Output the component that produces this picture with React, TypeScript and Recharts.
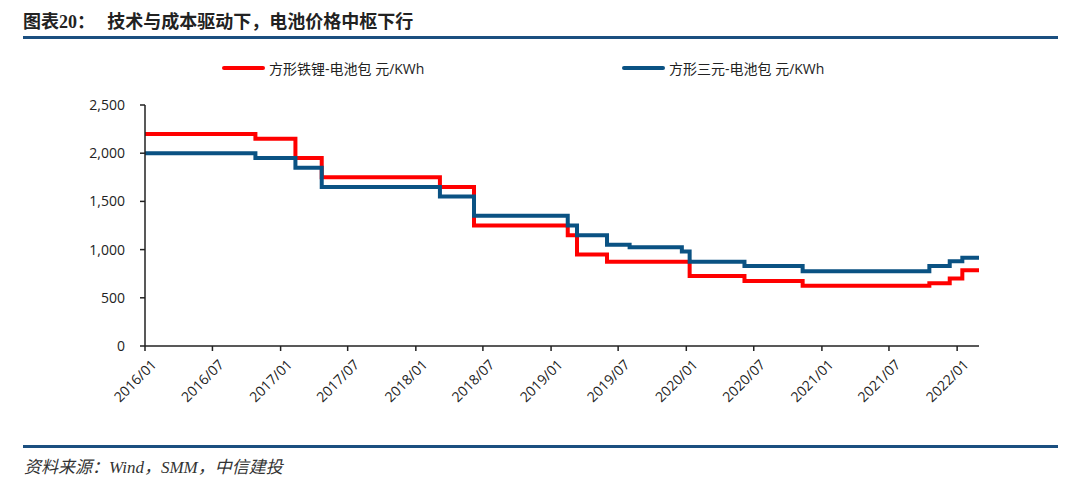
import { LineChart, Line, XAxis, YAxis } from 'recharts';

// change points of the two step series (yuan / KWh)
const dates = [
  '2016-01-01', '2016-10-25', '2017-02-10', '2017-04-22', '2018-03-07', '2018-06-07',
  '2019-02-15', '2019-03-12', '2019-06-01', '2019-08-01', '2019-12-20', '2020-01-10',
  '2020-06-06', '2020-11-10', '2021-10-18', '2021-12-12', '2022-01-15', '2022-03-01',
];
const lfpPack = [2200, 2150, 1950, 1750, 1650, 1250, 1150, 950, 875, 875, 875, 725, 675, 625, 650, 700, 785, 785];
const ncmPack = [2000, 1950, 1850, 1650, 1550, 1350, 1250, 1150, 1050, 1025, 980, 875, 830, 775, 830, 880, 915, 915];

const tickLabels = [
  '2016/01', '2016/07', '2017/01', '2017/07', '2018/01', '2018/07', '2019/01',
  '2019/07', '2020/01', '2020/07', '2021/01', '2021/07', '2022/01',
];
const yTicks = [0, 500, 1000, 1500, 2000, 2500];

const toTime = (s: string) => Date.parse(s + 'T00:00:00Z');
const data = dates.map((d, i) => ({ t: toTime(d), lfp: lfpPack[i], ncm: ncmPack[i] }));
const xTicks = tickLabels.map((l) => toTime(l.replace('/', '-') + '-01'));

const RED = '#FF0000';
const BLUE = '#0A5283';
const SANS = '"Open Sans", "Noto Sans CJK SC", sans-serif';

const fmtMonth = (v: number) => {
  const d = new Date(v);
  return `${d.getUTCFullYear()}/${String(d.getUTCMonth() + 1).padStart(2, '0')}`;
};

const XTick = (props: any) => {
  const { x, y, payload } = props;
  return (
    <text
      x={x + 4}
      y={y + 4}
      transform={`rotate(-45, ${x + 4}, ${y + 4})`}
      textAnchor="end"
      dominantBaseline="hanging"
      fontSize={14}
      fill="#222"
      fontFamily={SANS}
    >
      {fmtMonth(payload.value)}
    </text>
  );
};

const legendItems = [
  { name: '方形铁锂-电池包 元/KWh', color: RED, left: 222 },
  { name: '方形三元-电池包 元/KWh', color: BLUE, left: 622 },
];

export default function App() {
  return (
    <div style={{ position: 'absolute', left: 0, top: 0, width: 1080, height: 484, background: '#fff', overflow: 'hidden' }}>
      <div style={{ position: 'absolute', left: 23, top: 7, fontSize: 18, fontWeight: 'bold', color: '#222', fontFamily: '"Noto Sans CJK SC", sans-serif', whiteSpace: 'nowrap' }}>
        图表<span style={{ fontFamily: '"Liberation Serif", serif' }}>20</span>：&nbsp;&nbsp;&nbsp;技术与成本驱动下，电池价格中枢下行
      </div>
      <div style={{ position: 'absolute', left: 23, top: 36, width: 1035, height: 3, background: '#1B4F80' }} />
      <div style={{ position: 'absolute', left: 23, top: 445, width: 1035, height: 3, background: '#1B4F80' }} />
      <div style={{ position: 'absolute', left: 24, top: 453, fontSize: 17, fontStyle: 'italic', color: '#333', fontFamily: '"Liberation Serif", "Noto Sans CJK SC", serif', whiteSpace: 'nowrap' }}>
        资料来源：Wind，SMM，中信建投
      </div>
      {legendItems.map((it) => (
        <div key={it.name} style={{ position: 'absolute', left: it.left, top: 58, display: 'flex', alignItems: 'center', whiteSpace: 'nowrap', fontFamily: SANS, fontSize: 14, color: '#222' }}>
          <span style={{ display: 'inline-block', width: 43, height: 4, borderRadius: 2, background: it.color, marginRight: 4 }} />
          <span>{it.name}</span>
        </div>
      ))}
      <div style={{ position: 'absolute', left: 0, top: 0 }}>
        <LineChart width={1080} height={484} data={data} margin={{ top: 105, right: 101, bottom: 78, left: 85 }}>
          <XAxis
            dataKey="t"
            type="number"
            scale="time"
            domain={[toTime('2016-01-01'), toTime('2022-03-01')]}
            ticks={xTicks}
            tick={<XTick />}
            interval={0}
            height={60}
            axisLine={{ stroke: '#222', strokeWidth: 1.5 }}
            tickLine={{ stroke: '#222', strokeWidth: 1.5 }}
            tickSize={5}
          />
          <YAxis
            width={60}
            domain={[0, 2500]}
            ticks={yTicks}
            interval={0}
            tickFormatter={(v: number) => v.toLocaleString('en-US')}
            tick={{ fontSize: 14, fill: '#222', fontFamily: SANS }}
            axisLine={{ stroke: '#222', strokeWidth: 1.5 }}
            tickLine={{ stroke: '#222', strokeWidth: 1.5 }}
            tickSize={5}
            tickMargin={15}
          />
          <Line type="stepAfter" dataKey="lfp" name="方形铁锂-电池包 元/KWh" stroke={RED} strokeWidth={4} dot={false} isAnimationActive={false} />
          <Line type="stepAfter" dataKey="ncm" name="方形三元-电池包 元/KWh" stroke={BLUE} strokeWidth={4} dot={false} isAnimationActive={false} />
        </LineChart>
      </div>
    </div>
  );
}
